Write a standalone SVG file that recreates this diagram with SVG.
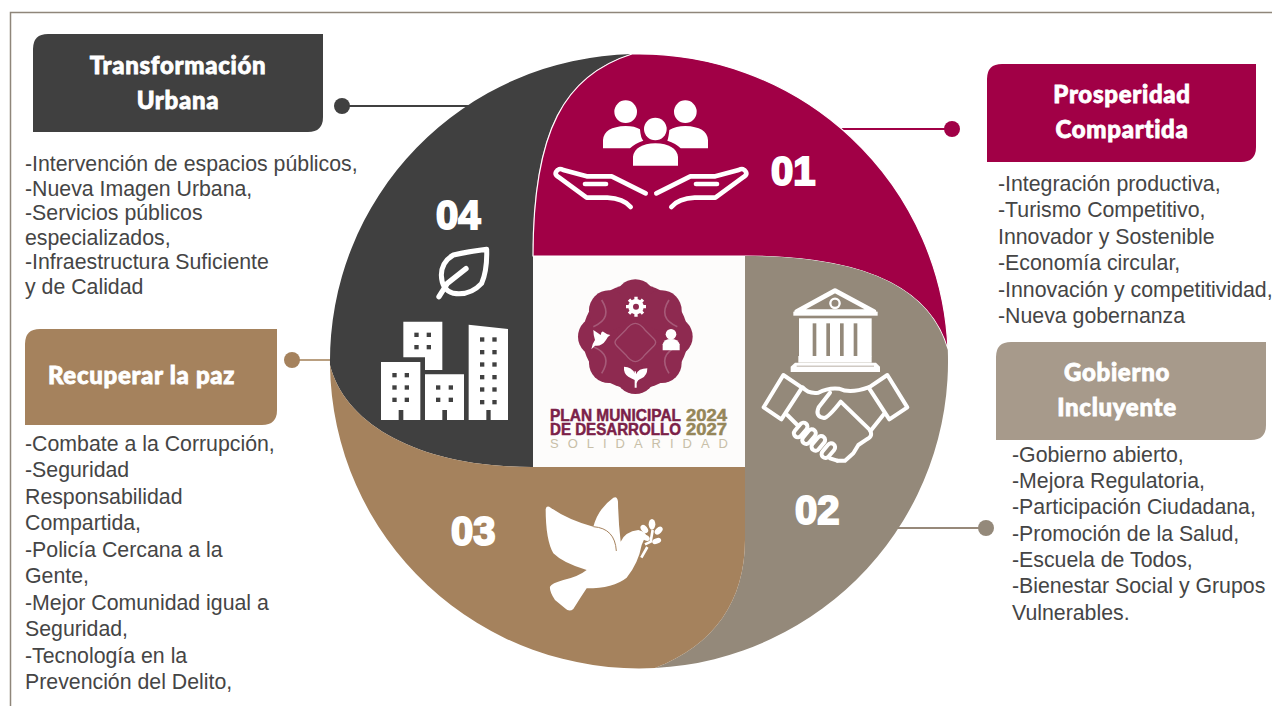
<svg xmlns="http://www.w3.org/2000/svg" width="1272" height="706" viewBox="0 0 1272 706">
<style>
.body{font-family:"Liberation Sans",Arial,sans-serif;font-size:21.3px;fill:#454545}
.title{font-family:"Lato","Roboto",sans-serif;font-weight:900;font-size:24px;fill:#fff;text-anchor:middle;stroke:#fff;stroke-width:.8;letter-spacing:.7px}
.num{font-family:"Liberation Sans",Arial,sans-serif;font-weight:700;font-size:40px;fill:#fff;stroke:#fff;stroke-width:2}
.ln{fill:none;stroke-width:2}
.ic{fill:none;stroke:#fff;stroke-linecap:round;stroke-linejoin:round}
.w{fill:#fff}
.logo{font-family:"Liberation Sans",Arial,sans-serif;font-weight:700;font-size:16.5px;stroke-width:.5}
</style>
<rect width="1272" height="706" fill="#fff"/>
<path d="M10.500 706V12.500H1272" fill="none" stroke="#8f867a" stroke-width="1.500"/>

<g id="connectors">
<path class="ln" stroke="#404040" d="M342 106H470"/><circle cx="342" cy="106" r="8" fill="#404040"/>
<path class="ln" stroke="#a10046" d="M840 129H952"/><circle cx="952" cy="129" r="8" fill="#a10046"/>
<path class="ln" stroke="#b99f80" d="M292 360H341"/><circle cx="292" cy="360" r="8" fill="#a5825d"/>
<path class="ln" stroke="#97897a" d="M895 528H986"/><circle cx="986" cy="528" r="8" fill="#94897a"/>
</g>

<g id="wheel">
<path fill="#404040" d="M532 467C420 467 345 425 330 365A309 307 0 0 1 632 54C565 75 533 130 533 256V467Z"/>
<path fill="#a10046" stroke="#fff" stroke-width="1.200" d="M533 256C533 130 565 75 632 54A309 307 0 0 1 948 350C930 285 860 256 745 256Z"/>
<path fill="#94897a" d="M745 256C860 256 930 285 947.800 350A309 307 0 0 1 655 668C715 645 745 600 745 540Z"/>
<path fill="#a5825d" d="M745 467V540C745 600 715 645 655 668A309 307 0 0 1 330 365C345 425 420 467 532 467Z"/>
<rect x="533" y="257" width="212" height="210" fill="#fdfcfb"/>
</g>

<g id="logo" transform="translate(530 255) scale(.33333)">
<g fill="#8e2a50">
<circle cx="316" cy="245" r="158"/>
<circle cx="316" cy="133" r="60"/><circle cx="316" cy="357" r="60"/><circle cx="204" cy="245" r="60"/><circle cx="428" cy="245" r="60"/>
<circle cx="237" cy="166" r="60"/><circle cx="395" cy="166" r="60"/><circle cx="237" cy="324" r="60"/><circle cx="395" cy="324" r="60"/>
</g>
<path d="M316 205Q330 205 345 225L372 252Q382 262 372 272L345 299Q330 320 316 320Q302 320 287 299L260 272Q250 262 260 252L287 225Q302 205 316 205Z" fill="none" stroke="#a65a78" stroke-width="4"/>
<g fill="none" stroke="#a65a78" stroke-width="5">
<path d="M215 135Q250 190 190 215"/><path d="M417 135Q382 190 442 215"/><path d="M215 355Q250 300 190 275"/><path d="M417 355Q382 300 442 275"/>
</g>
<g class="w">
<circle cx="318" cy="155" r="23"/>
<g fill="none" stroke="#fff" stroke-width="10"><path d="M318 125V185M288 155H348M297 134L339 176M339 134L297 176"/></g>
<circle cx="318" cy="155" r="9" fill="#8e2a50"/>
<path d="M190 225Q205 235 212 240Q215 225 222 232Q232 240 241 240Q232 245 228 255Q215 275 195 272L184 283Q187 265 195 255Q190 240 190 225Z"/>
<circle cx="423" cy="238" r="16"/><path d="M398 286V268Q402 252 423 252Q444 252 449 268V286Z"/>
<path d="M314 398V375Q305 370 295 365Q280 355 282 335Q305 335 314 355Q312 345 318 350L318 358Q325 340 352 340Q352 362 335 370Q322 375 320 385V398Z"/>
</g>
<text class="logo" transform="scale(3)" x="20" y="166.500" fill="#7b2148" stroke="#7b2148" textLength="131" lengthAdjust="spacingAndGlyphs">PLAN MUNICIPAL</text>
<text class="logo" transform="scale(3)" x="20" y="180" fill="#7b2148" stroke="#7b2148" textLength="131" lengthAdjust="spacingAndGlyphs">DE DESARROLLO</text>
<text class="logo" transform="scale(3)" x="156" y="166.500" fill="#958659" stroke="#958659" textLength="41" lengthAdjust="spacingAndGlyphs">2024</text>
<text class="logo" transform="scale(3)" x="156" y="180" fill="#958659" stroke="#958659" textLength="41" lengthAdjust="spacingAndGlyphs">2027</text>
<text transform="scale(3)" x="20" y="193" fill="#c8bfa8" font-family="Liberation Sans,Arial,sans-serif" font-size="13" textLength="178" lengthAdjust="spacing">SOLIDARIDAD</text>
</g>

<g id="q01">
<text class="num" x="771" y="185">01</text>
<g transform="translate(530 60) scale(.33333)">
<g class="w">
<circle cx="287" cy="155" r="34"/><circle cx="466" cy="155" r="34"/><circle cx="376" cy="207" r="34"/>
<path d="M219 265V240Q222 200 287 198Q315 198 330 208Q332 235 340 242Q315 250 300 265Z"/>
<path d="M534 265V240Q531 200 466 198Q438 198 418 210Q416 232 412 242Q438 250 452 265Z"/>
<path d="M309 317V290Q315 252 376 250Q438 252 444 290V317Z"/>
</g>
<g id="hand" class="ic" stroke-width="14">
<path d="M347 400L245 349H170L100 330Q85 322 78 336Q74 344 84 350L170 413H232Q280 415 302 441"/>
<path d="M165 372H228"/>
</g>
<use href="#hand" transform="translate(726 0) scale(-1 1)"/>
</g>
</g>

<g id="q02">
<text class="num" x="795" y="524">02</text>
<g transform="translate(750 270) scale(.33333)">
<path d="M255 62L140 125H372Z" fill="none" stroke="#fff" stroke-width="14" stroke-linejoin="round"/>
<circle cx="255" cy="100" r="14" fill="none" stroke="#fff" stroke-width="7"/>
<rect x="130" y="125" width="253" height="12" class="w"/>
<rect x="147" y="145" width="218" height="114" class="w"/>
<g fill="#94897a"><rect x="188" y="160" width="11" height="98"/><rect x="229" y="160" width="11" height="98"/><rect x="270" y="160" width="11" height="98"/><rect x="311" y="160" width="11" height="98"/></g>
<rect x="145" y="258" width="220" height="20" class="w"/>
<path d="M122 306V290L135 278H378L390 290V306Z" class="w"/>
<rect x="140" y="287" width="232" height="3" fill="#b9b0a5"/>
<g class="ic" stroke-width="12">
<path d="M100 315L156 353L94 448L41 412Z"/>
<path d="M412 315L356 353L418 448L472 412Z"/>
<path d="M158 352Q175 372 205 368Q235 352 268 356Q300 372 355 352"/>
<path d="M240 368L206 412Q194 440 222 444Q235 442 272 395L358 478Q372 498 350 508L325 525L310 550L285 572L262 572"/>
<path d="M112 435L145 468"/>
<path d="M402 432L362 482"/>
<rect x="127" y="468" width="50" height="24" rx="12" transform="rotate(-50 152 480)"/>
<rect x="152" y="488" width="50" height="24" rx="12" transform="rotate(-50 177 500)"/>
<rect x="180" y="508" width="50" height="24" rx="12" transform="rotate(-50 205 520)"/>
<rect x="210" y="530" width="50" height="24" rx="12" transform="rotate(-50 235 542)"/>
<path d="M240 565L262 572"/>
</g>
</g>
</g>

<g id="q03">
<text class="num" x="451" y="545">03</text>
<g transform="translate(530 485) scale(.33333)">
<path class="w" d="M47 72Q50 60 62 68Q115 105 190 125Q205 70 250 38Q262 32 264 50Q265 110 272 170Q285 140 325 135Q345 140 348 150L335 180Q325 235 290 278Q250 310 170 310Q150 340 130 372Q118 382 105 370L75 345Q58 320 60 305Q65 295 100 285Q145 275 170 255Q100 235 70 205Q47 165 47 72Z"/>
<path d="M190 125Q255 130 259 198" fill="none" stroke="#a5825d" stroke-width="3"/>
<g class="w">
<ellipse cx="366" cy="118" rx="10" ry="16"/>
<ellipse cx="343" cy="132" rx="9" ry="14" transform="rotate(-40 343 132)"/>
<ellipse cx="386" cy="137" rx="9" ry="14" transform="rotate(45 386 137)"/>
<ellipse cx="347" cy="158" rx="8" ry="13" transform="rotate(-60 347 158)"/>
<ellipse cx="380" cy="168" rx="8" ry="14" transform="rotate(70 380 168)"/>
</g>
<path d="M368 135L362 170L345 178M352 186L334 218" fill="none" stroke="#fff" stroke-width="8"/>
</g>
</g>

<g id="q04">
<text class="num" x="436" y="229">04</text>
<g transform="translate(370 190) scale(.33333)">
<path class="ic" stroke-width="15" d="M350 178Q352 240 335 280Q300 318 250 310Q215 300 214 255Q215 215 250 195Q295 185 350 178Z"/>
<path class="ic" stroke-width="16" d="M207 320L232 280L288 236"/>
<g class="w">
<path d="M100 395H217V540H165V502H100Z"/>
<path d="M33 516H151V690H100V660H86V690H33Z"/>
<path d="M165 553H282V690H231V660H217V690H165Z"/>
<path d="M296 404L414 417V690H362V660H349V690H296Z"/>
</g>
<g fill="#404040">
<rect x="133" y="428" width="13" height="13"/><rect x="170" y="428" width="13" height="13"/><rect x="133" y="465" width="13" height="13"/><rect x="170" y="465" width="13" height="13"/>
<rect x="67" y="549" width="13" height="13"/><rect x="104" y="549" width="13" height="13"/><rect x="67" y="586" width="13" height="13"/><rect x="104" y="586" width="13" height="13"/><rect x="67" y="623" width="13" height="13"/><rect x="104" y="623" width="13" height="13"/>
<rect x="198" y="586" width="13" height="13"/><rect x="236" y="586" width="13" height="13"/><rect x="198" y="623" width="13" height="13"/><rect x="236" y="623" width="13" height="13"/>
<rect x="330" y="442" width="13" height="13"/><rect x="367" y="442" width="13" height="13"/><rect x="330" y="480" width="13" height="13"/><rect x="367" y="480" width="13" height="13"/><rect x="330" y="517" width="13" height="13"/><rect x="367" y="517" width="13" height="13"/><rect x="330" y="555" width="13" height="13"/><rect x="367" y="555" width="13" height="13"/><rect x="330" y="592" width="13" height="13"/><rect x="367" y="592" width="13" height="13"/><rect x="330" y="630" width="13" height="13"/><rect x="367" y="630" width="13" height="13"/>
</g>
</g>
</g>

<g id="transformacion">
<path fill="#404040" d="M33 132V49Q33 34 48 34H323V117Q323 132 308 132Z"/>
<text class="title" x="178" y="74">Transformación</text>
<text class="title" x="178" y="109">Urbana</text>
<text class="body"><tspan x="25" y="171">-Intervención de espacios públicos,</tspan><tspan x="25" y="195.500">-Nueva Imagen Urbana,</tspan><tspan x="25" y="220">-Servicios públicos</tspan><tspan x="25" y="244.500">especializados,</tspan><tspan x="25" y="269">-Infraestructura Suficiente</tspan><tspan x="25" y="293.500">y de Calidad</tspan></text>
</g>

<g id="recuperar">
<path fill="#a5825d" d="M25 425V344Q25 329 40 329H277V410Q277 425 262 425Z"/>
<text class="title" x="141.500" y="384">Recuperar la paz</text>
<text class="body"><tspan x="25" y="451">-Combate a la Corrupción,</tspan><tspan x="25" y="477">-Seguridad</tspan><tspan x="25" y="504">Responsabilidad</tspan><tspan x="25" y="530">Compartida,</tspan><tspan x="25" y="557">-Policía Cercana a la</tspan><tspan x="25" y="583">Gente,</tspan><tspan x="25" y="610">-Mejor Comunidad igual a</tspan><tspan x="25" y="636">Seguridad,</tspan><tspan x="25" y="663">-Tecnología en la</tspan><tspan x="25" y="689">Prevención del Delito,</tspan></text>
</g>

<g id="prosperidad">
<path fill="#a10046" d="M987 162V79Q987 64 1002 64H1256V147Q1256 162 1241 162Z"/>
<text class="title" x="1122" y="103">Prosperidad</text>
<text class="title" x="1122" y="138">Compartida</text>
<text class="body"><tspan x="998" y="191">-Integración productiva,</tspan><tspan x="998" y="217">-Turismo Competitivo,</tspan><tspan x="998" y="244">Innovador y Sostenible</tspan><tspan x="998" y="270">-Economía circular,</tspan><tspan x="998" y="297">-Innovación y competitividad,</tspan><tspan x="998" y="323">-Nueva gobernanza</tspan></text>
</g>

<g id="gobierno">
<path fill="#a79a8b" d="M996 440V357Q996 342 1011 342H1266V425Q1266 440 1251 440Z"/>
<text class="title" x="1117" y="381">Gobierno</text>
<text class="title" x="1117" y="416">Incluyente</text>
<text class="body"><tspan x="1012" y="462">-Gobierno abierto,</tspan><tspan x="1012" y="488">-Mejora Regulatoria,</tspan><tspan x="1012" y="514">-Participación Ciudadana,</tspan><tspan x="1012" y="541">-Promoción de la Salud,</tspan><tspan x="1012" y="567">-Escuela de Todos,</tspan><tspan x="1012" y="593">-Bienestar Social y Grupos</tspan><tspan x="1012" y="620">Vulnerables.</tspan></text>
</g>
</svg>
